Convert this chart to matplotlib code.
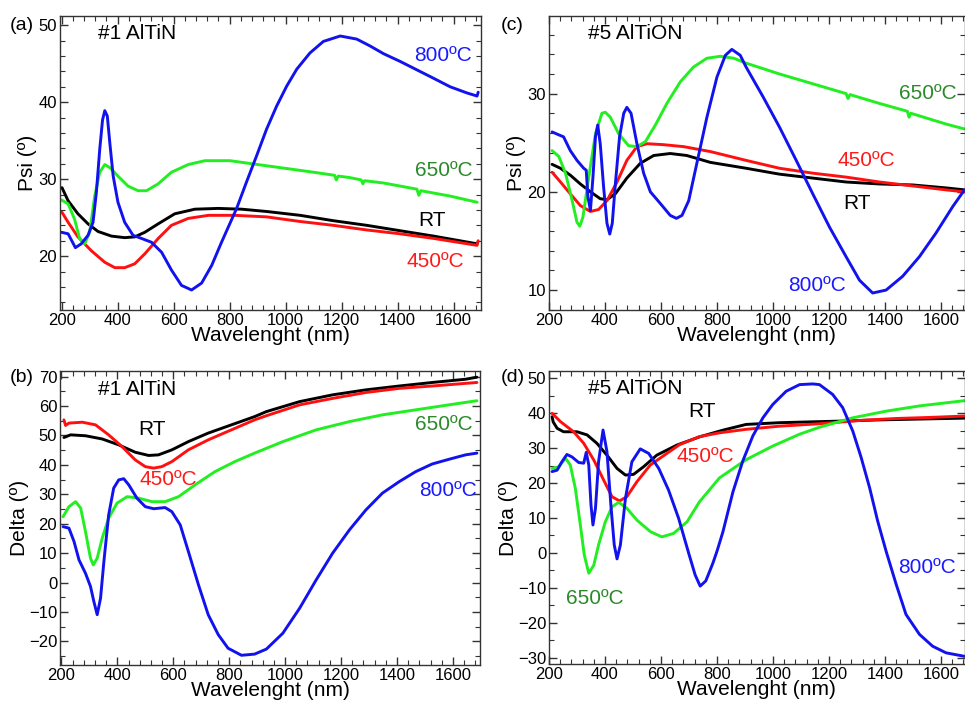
import matplotlib
matplotlib.use("Agg")
import matplotlib.pyplot as plt
from matplotlib.ticker import MultipleLocator

plt.rcParams['font.family'] = ['Liberation Sans', 'DejaVu Sans']

# ---------------- Panel (a): #1 AlTiN, Psi ----------------
a_blue_x = [199, 223, 249, 270, 294, 312, 324, 336, 346, 354, 363, 372, 384, 401, 425, 455, 485, 521, 557, 592, 628, 664,
            700, 736, 771, 825, 861, 897, 932, 968, 1004, 1040, 1087, 1135, 1195, 1254, 1302, 1350, 1409, 1469, 1529,
            1588, 1648, 1684, 1688]
a_blue_y = [23.1, 22.9, 21.1, 21.6, 22.7, 24.4, 28.3, 33.9, 37.7, 38.9, 38.2, 34.7, 30.4, 27.0, 24.4, 22.7, 22.3, 21.8, 20.5, 18.2, 16.2, 15.6,
            16.5, 18.8, 21.8, 26.2, 29.7, 33.1, 36.5, 39.5, 42.1, 44.3, 46.4, 47.9, 48.6, 48.2, 47.3, 46.3, 45.3, 44.2, 43.1,
            42.0, 41.2, 40.8, 41.3]
a_green_x = [199, 223, 246, 264, 282, 300, 318, 336, 354, 372, 401, 437, 473, 503, 545, 592, 652, 712, 801, 920, 1040, 1100,
             1175, 1181, 1188, 1230, 1270, 1276, 1282, 1350, 1469, 1476, 1483, 1588, 1684]
a_green_y = [27.3, 26.8, 24.8, 22.3, 21.6, 23.1, 27.8, 30.9, 31.9, 31.5, 30.4, 29.1, 28.5, 28.5, 29.4, 30.9, 31.9, 32.4, 32.4, 31.8, 31.2, 30.9,
             30.5, 29.9, 30.4, 30.2, 29.9, 29.4, 29.8, 29.5, 28.7, 27.9, 28.5, 27.8, 27.0]
a_black_x = [201, 223, 258, 294, 330, 378, 425, 461, 497, 545, 604, 676, 759, 843, 932, 1052, 1171, 1290, 1409, 1529, 1684]
a_black_y = [28.9, 27.2, 25.5, 24.2, 23.2, 22.6, 22.4, 22.5, 23.1, 24.2, 25.5, 26.1, 26.2, 26.1, 25.8, 25.3, 24.6, 24.0, 23.3, 22.6, 21.6]
a_red_x = [201, 223, 258, 306, 354, 390, 425, 461, 497, 545, 592, 652, 724, 819, 932, 1052, 1171, 1290, 1409, 1529, 1684, 1688]
a_red_y = [25.7, 24.4, 22.5, 20.7, 19.2, 18.5, 18.5, 19.0, 20.3, 22.3, 24.0, 24.9, 25.3, 25.3, 25.1, 24.5, 24.0, 23.4, 22.9, 22.3, 21.4, 22.0]

# ---------------- Panel (b): #1 AlTiN, Delta ----------------
b_blue_x = [206, 227, 245, 263, 286, 304, 316, 328, 340, 352, 369, 387, 405, 423, 441, 470, 500, 530, 571, 595, 625, 654,
            690, 725, 761, 796, 844, 891, 933, 992, 1052, 1111, 1170, 1230, 1289, 1348, 1408, 1467, 1526, 1586, 1645, 1686]
b_blue_y = [19.0, 18.5, 14.0, 7.7, 3.2, -1.3, -6.4, -10.9, -5.3, 7.2, 23.0, 32.1, 34.9, 35.3, 33.2, 28.7, 25.8, 25.1, 25.5, 24.1, 19.6, 10.6,
            -0.7, -10.9, -17.7, -22.3, -24.7, -24.3, -22.6, -17.2, -8.7, 0.9, 10.0, 17.9, 24.7, 30.4, 34.3, 37.7, 40.3, 41.9, 43.4, 44.0]
b_green_x = [206, 227, 251, 269, 286, 304, 314, 328, 346, 369, 399, 435, 476, 524, 571, 619, 678, 749, 820, 891, 992, 1111,
             1230, 1348, 1467, 1586, 1686]
b_green_y = [22.4, 25.8, 27.5, 25.3, 17.4, 8.3, 6.0, 8.3, 15.1, 21.9, 27.0, 29.2, 28.7, 27.5, 27.5, 29.2, 33.2, 37.7, 41.1, 44.0, 47.9, 51.9,
             54.7, 57.0, 58.7, 60.4, 61.8]
b_red_x = [209, 215, 227, 275, 322, 369, 417, 464, 500, 530, 559, 595, 654, 725, 808, 891, 933, 1052, 1170, 1289, 1408, 1526, 1645, 1686]
b_red_y = [55.3, 53.4, 54.2, 54.5, 53.6, 50.2, 46.2, 41.7, 39.4, 38.9, 39.4, 41.1, 45.1, 48.5, 51.9, 55.3, 56.7, 60.4, 62.6, 64.6, 66.0, 66.8, 67.7, 68.0]
b_black_x = [209, 233, 286, 346, 405, 464, 512, 547, 595, 654, 725, 808, 891, 933, 1052, 1170, 1289, 1408, 1526, 1645, 1686]
b_black_y = [49.3, 50.2, 49.9, 48.8, 46.8, 44.3, 43.2, 43.4, 45.1, 47.9, 50.8, 53.6, 56.4, 58.1, 61.5, 63.8, 65.5, 66.8, 68.0, 69.1, 69.8]

# ---------------- Panel (c): #5 AlTiON, Psi ----------------
c_blue_x = [211, 235, 252, 276, 300, 324, 333, 339, 348, 357, 366, 374, 383, 395, 407, 417, 426, 437, 452, 467, 478, 493,
            514, 538, 562, 598, 633, 655, 675, 699, 728, 764, 800, 830, 853, 883, 904, 964, 1023, 1083, 1142, 1202, 1261,
            1309, 1356, 1404, 1463, 1523, 1582, 1642, 1684]
c_blue_y = [26.1, 25.8, 25.6, 24.2, 23.2, 22.4, 22.2, 19.5, 18.1, 21.5, 25.6, 26.8, 24.9, 20.5, 16.8, 15.7, 16.8, 20.8, 25.6, 28.0, 28.6, 28.0,
            24.9, 21.9, 20.0, 18.8, 17.6, 17.3, 17.6, 19.1, 22.9, 27.6, 31.7, 33.9, 34.5, 33.9, 32.7, 29.7, 26.6, 23.2, 19.8, 16.4, 13.4,
            11.0, 9.7, 10.0, 11.4, 13.4, 15.8, 18.5, 20.2]
c_green_x = [211, 235, 259, 282, 300, 310, 321, 342, 366, 389, 401, 419, 449, 484, 514, 544, 580, 621, 669, 716, 764, 812,
             860, 904, 1023, 1142, 1261, 1268, 1275, 1380, 1480, 1486, 1492, 1618, 1684]
c_green_y = [24.2, 23.6, 21.9, 19.2, 16.9, 16.5, 17.4, 21.5, 25.9, 28.0, 28.1, 27.6, 25.9, 24.7, 24.6, 25.1, 26.8, 29.0, 31.2, 32.7, 33.6, 33.8,
             33.6, 33.1, 32.0, 31.0, 30.0, 29.5, 29.9, 29.0, 28.2, 27.6, 28.0, 26.9, 26.4]
c_red_x = [211, 241, 276, 312, 348, 377, 407, 443, 478, 514, 550, 609, 681, 776, 904, 1023, 1142, 1261, 1380, 1499, 1618, 1684]
c_red_y = [22.0, 21.0, 19.8, 18.6, 18.0, 18.2, 19.1, 21.0, 23.2, 24.6, 24.9, 24.8, 24.6, 24.1, 23.2, 22.4, 21.9, 21.5, 21.0, 20.6, 20.2, 20.0]
c_black_x = [211, 241, 276, 312, 348, 383, 407, 437, 478, 526, 574, 633, 692, 776, 904, 1023, 1142, 1261, 1380, 1499, 1618, 1684]
c_black_y = [22.8, 22.4, 21.7, 20.8, 20.0, 19.3, 19.2, 19.8, 21.4, 22.9, 23.7, 23.9, 23.7, 23.0, 22.4, 21.8, 21.4, 21.0, 20.8, 20.7, 20.4, 20.2]

# ---------------- Panel (d): #5 AlTiON, Delta ----------------
d_blue_x = [211, 229, 246, 264, 282, 306, 324, 333, 342, 350, 357, 366, 377, 393, 407, 421, 433, 443, 455, 473, 496, 526,
            556, 592, 627, 663, 699, 722, 740, 760, 785, 800, 821, 857, 892, 928, 964, 999, 1047, 1095, 1142, 1166, 1213,
            1249, 1285, 1315, 1345, 1374, 1404, 1440, 1475, 1523, 1570, 1618, 1684]
d_blue_y = [23.3, 23.7, 26.1, 28.2, 27.5, 25.9, 25.7, 28.8, 25.2, 13.7, 8.0, 12.8, 26.1, 35.2, 29.0, 13.7, 2.3, -1.7, 2.3, 15.6, 26.1, 29.8,
            28.5, 24.2, 18.0, 9.9, -0.1, -6.3, -9.5, -8.0, -3.0, 0.5, 6.0, 17.5, 26.3, 33.5, 38.7, 42.5, 46.3, 48.2, 48.4, 48.2, 45.4,
            41.6, 34.9, 27.3, 18.7, 9.1, 0.5, -9.0, -17.6, -23.3, -26.7, -28.6, -29.6]
d_green_x = [211, 235, 259, 276, 294, 312, 326, 342, 360, 377, 401, 425, 449, 478, 514, 562, 603, 645, 693, 737, 809, 904,
             999, 1095, 1166, 1285, 1404, 1523, 1684]
d_green_y = [24.2, 24.7, 27.1, 25.2, 18.5, 8.0, -0.6, -5.8, -3.5, 2.3, 8.9, 13.2, 14.5, 12.8, 9.4, 6.1, 4.6, 5.6, 8.9, 14.6, 21.5, 26.7,
             30.6, 34.0, 36.0, 38.7, 40.6, 42.1, 43.6]
d_red_x = [211, 241, 288, 324, 360, 395, 425, 452, 478, 514, 562, 621, 666, 737, 809, 904, 1023, 1166, 1321, 1440, 1559, 1684]
d_red_y = [40.0, 37.6, 34.7, 31.4, 26.6, 20.9, 16.1, 14.9, 16.1, 20.4, 25.2, 28.5, 31.0, 33.3, 34.4, 35.4, 36.3, 37.0, 38.0, 38.5, 38.8, 39.2]
d_black_x = [211, 215, 229, 252, 300, 336, 371, 407, 443, 473, 502, 538, 585, 657, 740, 823, 904, 1023, 1166, 1261, 1380, 1499, 1684]
d_black_y = [39.0, 37.5, 35.7, 34.7, 34.7, 33.8, 31.4, 28.0, 24.2, 22.3, 22.5, 24.7, 28.0, 30.9, 33.3, 35.2, 36.8, 37.3, 37.6, 37.8, 38.1, 38.3, 38.6]

LINE = {'blue': '#1212ee', 'green': '#22ee22', 'red': '#ff1010', 'black': '#000000'}
TXT = {'blue': '#1a1aff', 'green': '#2a8a2a', 'red': '#ff1a1a', 'black': '#000000'}

fig = plt.figure(figsize=(9.65, 7.06), dpi=100)
W, H = 965.0, 706.0

def make_ax(l, r, t, b):
    return fig.add_axes([l / W, 1 - b / H, (r - l) / W, (b - t) / H])

ax_a = make_ax(60, 481, 16, 310)
ax_b = make_ax(60, 480, 371, 665)
ax_c = make_ax(549, 964.5, 16, 310)
ax_d = make_ax(549, 964.5, 371, 664)

def style(ax, xlim, ylim, ymaj, ymin):
    ax.set_xlim(*xlim)
    ax.set_ylim(*ylim)
    ax.xaxis.set_major_locator(MultipleLocator(200))
    ax.xaxis.set_minor_locator(MultipleLocator(40))
    ax.yaxis.set_major_locator(MultipleLocator(ymaj))
    ax.yaxis.set_minor_locator(MultipleLocator(ymin))
    ax.tick_params(which='both', direction='in', top=True, right=True, colors='#333333', labelcolor='black')
    ax.tick_params(which='major', length=6, width=1, labelsize=12, pad=2)
    ax.tick_params(which='minor', length=3.5, width=0.8)
    for s in ax.spines.values():
        s.set_color('#333333')
        s.set_linewidth(1.0)
    ax.set_xlabel('Wavelenght (nm)', fontsize=15, labelpad=-1)

def draw(ax, series):
    for xs, ys, c in series:
        ax.plot(xs, ys, color=LINE[c], lw=2.1, solid_joinstyle='round', solid_capstyle='round')

def lab(ax, x, y, s, c, ha='left'):
    ax.text(x, y, s, transform=ax.transAxes, color=TXT[c], fontsize=15, ha=ha, va='center')

# (a)
style(ax_a, (194, 1698), (13, 51.2), 10, 2)
draw(ax_a, [(a_black_x, a_black_y, 'black'), (a_red_x, a_red_y, 'red'),
            (a_green_x, a_green_y, 'green'), (a_blue_x, a_blue_y, 'blue')])
ax_a.set_ylabel('Psi (º)', fontsize=15, labelpad=1)
lab(ax_a, 0.09, 0.942, '#1 AlTiN', 'black')
lab(ax_a, 0.979, 0.867, '800ºC', 'blue', ha='right')
lab(ax_a, 0.981, 0.474, '650ºC', 'green', ha='right')
lab(ax_a, 0.850, 0.306, 'RT', 'black')
lab(ax_a, 0.822, 0.164, '450ºC', 'red')
fig.text(10 / W, 1 - 25 / H, '(a)', fontsize=14, ha='left', va='center')

# (b)
style(ax_b, (195, 1697), (-28, 71.9), 10, 5)
draw(ax_b, [(b_black_x, b_black_y, 'black'), (b_red_x, b_red_y, 'red'),
            (b_green_x, b_green_y, 'green'), (b_blue_x, b_blue_y, 'blue')])
ax_b.set_ylabel('Delta (º)', fontsize=15, labelpad=0)
lab(ax_b, 0.09, 0.938, '#1 AlTiN', 'black')
lab(ax_b, 0.186, 0.80, 'RT', 'black')
lab(ax_b, 0.19, 0.632, '450ºC', 'red')
lab(ax_b, 0.983, 0.819, '650ºC', 'green', ha='right')
lab(ax_b, 0.993, 0.595, '800ºC', 'blue', ha='right')
fig.text(10 / W, 1 - 377 / H, '(b)', fontsize=14, ha='left', va='center')

# (c)
style(ax_c, (200, 1684), (7.97, 37.9), 10, 2)
draw(ax_c, [(c_black_x, c_black_y, 'black'), (c_red_x, c_red_y, 'red'),
            (c_green_x, c_green_y, 'green'), (c_blue_x, c_blue_y, 'blue')])
ax_c.set_ylabel('Psi (º)', fontsize=15, labelpad=1)
lab(ax_c, 0.094, 0.942, '#5 AlTiON', 'black')
lab(ax_c, 0.981, 0.737, '650ºC', 'green', ha='right')
lab(ax_c, 0.694, 0.51, '450ºC', 'red')
lab(ax_c, 0.707, 0.361, 'RT', 'black')
lab(ax_c, 0.575, 0.085, '800ºC', 'blue')
fig.text(501 / W, 1 - 25 / H, '(c)', fontsize=14, ha='left', va='center')

# (d)
style(ax_d, (200, 1684), (-31.8, 52.1), 10, 5)
draw(ax_d, [(d_black_x, d_black_y, 'black'), (d_red_x, d_red_y, 'red'),
            (d_green_x, d_green_y, 'green'), (d_blue_x, d_blue_y, 'blue')])
ax_d.set_ylabel('Delta (º)', fontsize=15, labelpad=0)
lab(ax_d, 0.094, 0.941, '#5 AlTiON', 'black')
lab(ax_d, 0.334, 0.861, 'RT', 'black')
lab(ax_d, 0.308, 0.708, '450ºC', 'red')
lab(ax_d, 0.041, 0.224, '650ºC', 'green')
lab(ax_d, 0.841, 0.33, '800ºC', 'blue')
fig.text(501 / W, 1 - 378 / H, '(d)', fontsize=14, ha='left', va='center')

fig.savefig('out.png', dpi=100)
